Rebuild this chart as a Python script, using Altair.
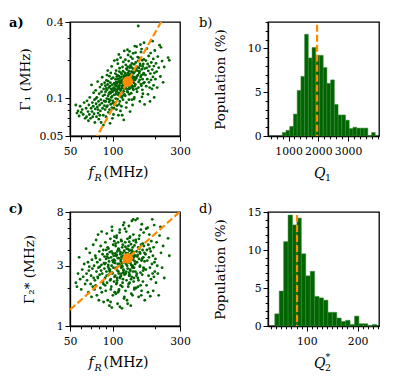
import altair as alt
import pandas as pd

FONT = "DejaVu Serif"
GREEN = "#006400"
ORANGE = "#ff8c00"

# ---------------- scatter data ----------------
fR = [55, 56, 57, 58, 59, 60, 61, 62, 63, 64,
      65, 65.5, 66, 67, 67.5, 68, 68.5, 69, 70, 70.5, 71, 71.5, 72, 72.5, 73, 73.5, 74, 74.5,
      75, 75.5, 76, 76.5, 77, 77.5, 78, 78.5, 79, 79.5, 80, 80.5, 81, 81.5, 82, 82.5, 83, 83.5, 84, 84.5,
      85, 85.5, 86, 86.5, 87, 87.5, 76.2, 78.8, 81.3, 83.8, 86.2, 87.8,
      88, 88.5, 89, 89.5, 90, 90.5, 91, 91.5, 92, 92.5, 93, 93.5, 94, 94.5, 95, 95.5, 96, 96.5, 97, 97.5,
      98, 98.5, 99, 99.5, 100, 100.5, 101, 101.5, 102, 102.5, 103, 103.5,
      89.2, 90.8, 92.3, 93.7, 95.2, 96.8, 98.3, 99.7, 101.2, 102.8, 88.7, 91.3, 94.2, 97.2, 100.2, 103.2,
      90.2, 93.2, 96.2, 99.2, 102.2, 95.7, 98.8,
      104, 104.5, 105, 105.5, 106, 106.5, 107, 107.5, 108, 108.5, 109, 109.5, 110, 110.5, 111, 111.5,
      112, 112.5, 113, 113.5, 114, 114.5, 115, 115.5, 116, 116.5, 117, 117.5, 118, 118.5, 119, 119.5,
      120, 120.5, 121, 121.5,
      104.2, 105.2, 106.2, 107.2, 108.2, 109.2, 110.2, 111.2, 112.2, 113.2, 114.2, 115.2, 116.2, 117.2,
      118.2, 119.2, 120.2, 121.2,
      104.7, 105.7, 106.7, 107.7, 108.7, 109.7, 110.7, 111.7, 112.7, 113.7, 114.7, 115.7, 116.7, 117.7,
      118.7, 119.7, 120.7, 121.7, 110.9, 116.9, 107.9,
      122, 122.5, 123, 123.5, 124, 124.5, 125, 125.5, 126, 126.5, 127, 127.5, 128, 128.5, 129, 129.5,
      130, 130.5, 131, 131.5, 132, 132.5, 133, 133.5, 134, 134.5, 135, 135.5, 136, 136.5, 137, 137.5,
      138, 138.5, 139, 139.5, 140, 140.5, 141, 141.5, 142, 142.5, 143, 143.5,
      122.3, 123.8, 125.3, 126.8, 128.3, 129.8, 131.3, 132.8, 134.3, 135.8, 137.3, 138.8, 140.3, 141.8, 143.3,
      123.2, 124.9, 126.2, 127.9, 129.3, 130.8, 132.2, 133.9, 135.2, 136.9, 138.2, 139.8, 141.2, 142.8,
      128.8, 131.9,
      144, 145, 146, 147, 148, 149, 150, 151, 152, 153, 154, 155, 156, 157, 158, 159, 160, 161, 162, 163,
      164, 165, 166, 167, 168, 169,
      144.5, 146.5, 148.5, 150.5, 152.5, 154.5, 156.5, 158.5, 160.5, 162.5, 164.5, 166.5, 168.5,
      145.5, 147.5, 149.5, 151.5, 153.5, 155.5, 157.5, 159.5, 161.5, 163.5, 165.5,
      171, 172, 173, 174, 175, 176, 177, 178, 179, 180, 181, 182, 184, 185, 186, 187, 188, 190, 191, 192,
      193, 194, 195, 196, 197, 198, 199, 183,
      201, 203, 205, 207, 209, 212, 215, 218, 220, 224, 228, 232, 247, 252]

gamma1 = [0.088, 0.076, 0.079, 0.072, 0.086, 0.077, 0.081, 0.074, 0.092, 0.069,
          0.083, 0.071, 0.095, 0.078, 0.066, 0.088, 0.074, 0.101, 0.069, 0.083, 0.127, 0.078, 0.092, 0.071,
          0.086, 0.11, 0.075, 0.097,
          0.064, 0.082, 0.115, 0.09, 0.071, 0.101, 0.085, 0.135, 0.076, 0.094, 0.068, 0.108, 0.088, 0.122,
          0.079, 0.097, 0.064, 0.112, 0.091, 0.146, 0.083, 0.104, 0.073, 0.118, 0.095, 0.087, 0.099, 0.081,
          0.073, 0.128, 0.061, 0.132,
          0.106, 0.081, 0.125, 0.094, 0.071, 0.138, 0.099, 0.116, 0.087, 0.165, 0.104, 0.077, 0.121, 0.093,
          0.149, 0.111, 0.063, 0.132, 0.089, 0.118, 0.101, 0.178, 0.084, 0.127, 0.112, 0.095, 0.145, 0.074,
          0.121, 0.106, 0.198, 0.088,
          0.112, 0.085, 0.128, 0.098, 0.081, 0.109, 0.142, 0.069, 0.118, 0.131, 0.094, 0.152, 0.108, 0.158,
          0.091, 0.115, 0.119, 0.136, 0.096, 0.103, 0.083, 0.124, 0.113,
          0.118, 0.092, 0.141, 0.107, 0.165, 0.081, 0.129, 0.113, 0.152, 0.098, 0.187, 0.121, 0.073, 0.135,
          0.109, 0.162, 0.126, 0.094, 0.144, 0.117, 0.209, 0.103, 0.132, 0.086, 0.155, 0.124, 0.111, 0.176,
          0.138, 0.097, 0.128, 0.148, 0.067, 0.119, 0.236, 0.134,
          0.128, 0.099, 0.134, 0.148, 0.117, 0.141, 0.124, 0.089, 0.172, 0.131, 0.114, 0.147, 0.101, 0.139,
          0.121, 0.193, 0.143, 0.107,
          0.156, 0.124, 0.111, 0.087, 0.133, 0.106, 0.149, 0.119, 0.137, 0.079, 0.158, 0.119, 0.135, 0.104,
          0.163, 0.113, 0.129, 0.152, 0.221, 0.073, 0.201,
          0.127, 0.158, 0.104, 0.141, 0.183, 0.119, 0.147, 0.092, 0.133, 0.168, 0.126, 0.241, 0.139, 0.111,
          0.152, 0.131, 0.196, 0.097, 0.145, 0.122, 0.174, 0.136, 0.078, 0.155, 0.128, 0.212, 0.143, 0.109,
          0.162, 0.134, 0.188, 0.121, 0.149, 0.088, 0.171, 0.138, 0.226, 0.116, 0.157, 0.132, 0.185, 0.101,
          0.146, 0.258,
          0.148, 0.129, 0.171, 0.113, 0.157, 0.142, 0.107, 0.151, 0.139, 0.176, 0.125, 0.161, 0.144, 0.098, 0.169,
          0.201, 0.084, 0.152, 0.177, 0.118, 0.163, 0.119, 0.181, 0.126, 0.097, 0.205, 0.118, 0.142, 0.124,
          0.219, 0.234,
          0.162, 0.128, 0.191, 0.143, 0.255, 0.112, 0.176, 0.152, 0.372, 0.134, 0.208, 0.163, 0.094, 0.181,
          0.147, 0.231, 0.125, 0.169, 0.199, 0.141, 0.108, 0.186, 0.157, 0.274, 0.133, 0.171,
          0.139, 0.171, 0.148, 0.211, 0.121, 0.158, 0.186, 0.129, 0.244, 0.116, 0.154, 0.202, 0.089,
          0.229, 0.118, 0.165, 0.197, 0.173, 0.139, 0.265, 0.151, 0.102, 0.178, 0.131,
          0.152, 0.198, 0.124, 0.173, 0.246, 0.141, 0.186, 0.107, 0.164, 0.215, 0.133, 0.178, 0.094, 0.156,
          0.227, 0.139, 0.191, 0.118, 0.168, 0.282, 0.147, 0.204, 0.126, 0.179, 0.101, 0.158, 0.238, 0.121,
          0.141, 0.188, 0.162, 0.121, 0.213, 0.174, 0.262, 0.148, 0.252, 0.196, 0.133, 0.176, 0.209, 0.199]

gamma2 = [2.2, 2.05, 2.6, 3.5, 2.35, 1.95, 2.8, 2.45, 3.1, 2.15,
          4.1, 2.6, 2.3, 3.2, 1.85, 2.75, 2.95, 3.8, 2.15, 2.5, 1.7, 3.35, 2.85, 2.05, 4.4, 2.4, 3.0, 1.95,
          2.3, 3.6, 2.1, 4.8, 2.7, 1.75, 3.2, 2.45, 5.3, 2.9, 1.6, 3.9, 2.55, 3.35, 2.0, 4.3, 2.75, 3.05,
          1.85, 2.6, 3.7, 2.25, 4.0, 1.55, 3.15, 2.85, 3.45, 2.4, 2.95, 5.6, 2.15, 3.55,
          3.1, 2.4, 4.6, 1.9, 3.4, 2.7, 5.4, 2.2, 3.7, 1.6, 2.95, 4.1, 2.55, 3.25, 1.45, 3.85, 2.8, 4.9,
          2.35, 3.5, 2.05, 3.0, 6.1, 2.65, 3.3, 1.75, 4.4, 2.9, 3.6, 2.25, 5.1, 1.85, 3.15, 2.5, 4.2, 3.45,
          2.75, 1.55, 3.9, 2.6, 3.2, 4.7, 2.1, 3.55, 2.85, 1.95, 3.75, 2.45, 4.0, 3.05, 2.3, 5.7, 3.35, 2.7, 1.4,
          3.3, 2.5, 4.3, 1.8, 3.6, 2.9, 5.2, 2.2, 3.9, 1.5, 3.1, 4.6, 2.7, 3.45, 1.95, 4.0, 3.0, 5.8, 2.4, 3.7,
          2.1, 3.25, 4.8, 2.6, 3.5, 1.38, 4.2, 2.95, 3.8, 2.35, 6.3, 2.8,
          3.4, 1.65, 3.95, 2.55, 3.15, 4.5, 2.15, 3.65, 2.75, 1.85, 4.1, 3.05, 5.5, 2.45, 3.35, 2.9,
          3.55, 2.05, 4.4, 2.65, 3.2, 1.7, 3.75, 2.85, 5.0, 2.3, 3.45, 4.05, 2.6, 3.1, 1.42, 3.85, 2.5, 4.7,
          3.0, 2.2, 3.6, 2.75, 6.6, 3.3, 1.9, 3.15, 2.4,
          3.5, 2.6, 4.6, 1.9, 3.8, 3.1, 5.6, 2.3, 4.1, 1.6, 3.3, 4.9, 2.85, 3.65, 2.05, 4.3, 3.2, 6.2, 2.5, 3.95,
          2.2, 3.45, 5.1, 2.75, 3.7, 1.45, 4.45, 3.05, 4.0, 2.45, 6.8, 2.95,
          3.6, 1.75, 4.2, 2.7, 3.35, 4.75, 2.25, 3.85, 2.9, 1.95, 4.35, 3.25, 5.9, 2.6, 3.55, 3.0,
          3.75, 2.15, 4.65, 2.8, 3.4, 1.8, 3.95, 3.0, 5.3, 2.4, 3.6, 4.25, 2.7, 3.3, 1.5, 4.05, 2.65, 5.0,
          3.15, 2.35, 3.8, 2.9, 7.0, 3.5, 2.0, 3.2, 2.55,
          3.6, 2.7, 4.8, 2.0, 3.9, 3.2, 7.1, 2.4, 4.2, 1.7, 3.4, 5.2, 2.95, 3.75, 2.1, 4.4, 3.3, 6.4, 2.55, 4.0,
          2.25, 3.5, 5.5, 2.85, 3.8, 1.6,
          3.1, 4.6, 2.6, 3.65, 2.3, 4.1, 3.0, 5.8, 1.9, 3.45, 2.75, 4.3, 3.25, 6.9, 2.5, 3.55, 2.05, 4.9,
          3.85, 2.65, 1.75, 3.35, 4.5, 2.9,
          3.7, 2.8, 5.9, 2.1, 4.0, 3.3, 6.0, 1.85, 4.4, 2.5, 3.5, 5.3, 2.9, 1.72, 3.9, 2.35, 4.7, 3.1, 7.0, 2.6,
          3.6, 1.9, 4.2, 2.45, 6.3, 3.2, 2.7, 4.1,
          3.4, 2.2, 4.6, 3.0, 2.6, 1.75, 5.2, 6.1, 3.8, 2.9, 4.3, 2.4, 4.95, 3.6]

fit_f = [50, 300]
fit_gamma1 = [0.0206, 0.742]
fit_gamma2 = [1.344, 8.06]
mean_f = [128]
mean_gamma1 = [0.135]
mean_gamma2 = [3.44]

# ---------------- histogram data ----------------
q1_edges = [790, 915, 1040, 1165, 1290, 1415, 1540, 1665, 1790, 1915, 2040, 2165, 2290, 2415, 2540,
            2665, 2790, 2915, 3040, 3165, 3290, 3415, 3540, 3665, 3790, 3915]
q1_pct = [0.4, 0.65, 1.1, 2.5, 5.2, 6.8, 11.6, 8.9, 10.1, 9.2, 9.2, 7.8, 6.0, 6.4, 3.6, 2.4, 2.4, 1.8,
          0.85, 1.0, 0.9, 0.9, 0.9, 0.0, 0.4]
q1_median = [1960]
q1_line_top = [12.7]

q2_edges = [37.3, 46.0, 54.7, 63.4, 72.1, 80.8, 89.5, 98.2, 106.9, 115.6, 124.3, 133.0, 141.7, 150.4,
            159.1, 167.8, 176.5, 185.2, 193.9, 202.6, 211.3, 220.0, 228.7, 237.4]
q2_pct = [1.6, 4.6, 11.1, 14.6, 13.3, 14.2, 9.5, 6.6, 7.2, 3.9, 3.7, 3.4, 1.8, 1.8, 1.05, 0.6, 0.75,
          0.2, 1.3, 0.3, 0.3, 0.0, 0.2]
q2_median = [81]
q2_line_top = [14.6]

# ---------------- ticks ----------------
f_ticks = [50, 60, 70, 80, 90, 100, 200, 300]
f_labels = [50, 100, 300]
g1_ticks = [0.05, 0.06, 0.07, 0.08, 0.09, 0.1, 0.2, 0.3, 0.4]
g1_labels = [0.05, 0.1, 0.4]
g2_ticks = [1, 2, 3, 4, 5, 6, 7, 8]
g2_labels = [1, 3, 8]
q1_ticks = [400, 600, 800, 1000, 1200, 1400, 1600, 1800, 2000, 2200, 2400, 2600, 2800, 3000, 3200,
            3400, 3600, 3800, 4000]
q1_labels = [1000, 2000, 3000]
q2_ticks = [30, 40, 50, 60, 70, 80, 90, 100, 110, 120, 130, 140, 150, 160, 170, 180, 190, 200,
            210, 220, 230, 240]
q2_labels = [100, 200]
p1_ticks = [0, 1, 2, 3, 4, 5, 6, 7, 8, 9, 10, 11, 12, 13]
p1_labels = [0, 5, 10]
p2_ticks = [0, 1, 2, 3, 4, 5, 6, 7, 8, 9, 10, 11, 12, 13, 14, 15]
p2_labels = [0, 5, 10, 15]

W, H = 110, 114
LABEL_SIZE = 10.8
TITLE_SIZE = 13.5


def make_axis(ticks, labels, fmt, title=None, title_x=None, pad=3):
    test = " || ".join(f"datum.value == {v}" for v in labels)
    kw = dict(values=ticks, format=fmt, labelExpr=f"({test}) ? datum.label : ''",
              tickSize={"condition": {"test": test, "value": 5}, "value": 2.8},
              tickColor="black", tickWidth=1, domainColor="black", domainWidth=1.3,
              labelFont=FONT, labelFontSize=LABEL_SIZE, labelColor="black", labelPadding=pad,
              labelFlush=False, labelOverlap=False, grid=False)
    if title is None:
        kw["title"] = None
    else:
        kw.update(title=title, titleFont=FONT, titleFontSize=TITLE_SIZE, titleFontWeight="normal",
                  titleColor="black", titleX=title_x, titleY=H / 2, titleAngle=270,
                  titleBaseline="middle", titleAlign="center")
    return alt.Axis(**kw)


def piece(s, x, y, size=TITLE_SIZE, style="normal"):
    return alt.Chart(alt.InlineData(values=[{"k": 0}])).mark_text(
        text=s, font=FONT, fontSize=size, fontStyle=style, align="left",
        baseline="alphabetic", color="black").encode(x=alt.value(x), y=alt.value(y))


def panel_title(label, bold, dx, dy):
    return alt.TitleParams(text=label, anchor="start", frame="group", dx=dx, dy=dy, offset=0,
                           font=FONT, fontSize=13, fontWeight="bold" if bold else "normal",
                           color="black", baseline="alphabetic", align="left")


def scatter_panel(gvals, fit_g, mean_g, ydom, yticks, ylabels, ytitle, title_x, label, bold, dx, dy, key):
    fx, gy = "f_" + key, "g_" + key
    rows = [{fx: f, gy: g, "kind": "pt"} for f, g in zip(fR, gvals)]
    rows += [{fx: f, gy: g, "kind": "fit"} for f, g in zip(fit_f, fit_g)]
    rows += [{fx: f, gy: g, "kind": "mean"} for f, g in zip(mean_f, mean_g)]
    df = pd.DataFrame(rows)
    x = alt.X(f"{fx}:Q", scale=alt.Scale(type="log", domain=[50, 300], nice=False),
              axis=make_axis(f_ticks, f_labels, "~g", pad=4))
    y = alt.Y(f"{gy}:Q", scale=alt.Scale(type="log", domain=ydom, nice=False),
              axis=make_axis(yticks, ylabels, "~g", title=ytitle, title_x=title_x, pad=2))
    base = alt.Chart(df).encode(x=x, y=y)
    pts = base.transform_filter(alt.datum.kind == "pt").mark_circle(size=8, color=GREEN, opacity=1)
    fit = base.transform_filter(alt.datum.kind == "fit").mark_line(
        color=ORANGE, strokeWidth=2.2, strokeDash=[7, 3], clip=True)
    dot = base.transform_filter(alt.datum.kind == "mean").mark_circle(size=110, color=ORANGE, opacity=1)
    xt = [piece("f", 18.5, 155, 14, "italic"), piece("R", 24.5, 158.5, 9.5, "italic"),
          piece("(MHz)", 33.5, 155, 14)]
    return alt.layer(pts, fit, dot, *xt).properties(width=W, height=H,
                                                     title=panel_title(label, bold, dx, dy))


def hist_panel(edges, pct, med, top, xdom, xticks, xlabels, ydom, yticks, ylabels, label, bold, dx, dy,
               key, xt):
    x0, x1, p = "x0_" + key, "x1_" + key, "p_" + key
    df = pd.DataFrame({x0: edges[:-1], x1: edges[1:], p: pct})
    ldf = pd.DataFrame({x0: med, p: top})
    x = alt.X(f"{x0}:Q", scale=alt.Scale(domain=xdom, nice=False, zero=False),
              axis=make_axis(xticks, xlabels, "d", pad=4))
    y = alt.Y(f"{p}:Q", scale=alt.Scale(domain=ydom, nice=False),
              axis=make_axis(yticks, ylabels, "d", title="Population (%)", title_x=-48, pad=2))
    bars = alt.Chart(df).mark_rect(color=GREEN, stroke="#3a8a3a", strokeWidth=0.5).encode(
        x=x, x2=alt.X2(x1), y=y, y2=alt.datum(0))
    rule = alt.Chart(ldf).mark_rule(color=ORANGE, strokeWidth=2.2, strokeDash=[7, 3]).encode(
        x=x, y=y, y2=alt.datum(0))
    return alt.layer(bars, rule, *xt).properties(width=W + 1, height=H,
                                                 title=panel_title(label, bold, dx, dy))


pa = scatter_panel(gamma1, fit_gamma1, mean_gamma1, [0.05, 0.4], g1_ticks, g1_labels, "Γ₁ (MHz)",
                   -45, "a)", True, -61, 24, "a")
pc = scatter_panel(gamma2, fit_gamma2, mean_gamma2, [1, 8], g2_ticks, g2_labels, "Γ₂* (MHz)",
                   -41, "c)", True, -61, 20, "c")
pb = hist_panel(q1_edges, q1_pct, q1_median, q1_line_top, [310, 4040], q1_ticks, q1_labels,
                [0, 13], p1_ticks, p1_labels, "b)", False, -69, 24, "b",
                [piece("Q", 46, 155.5, 14, "italic"), piece("1", 57, 159, 9.5)])
pd_ = hist_panel(q2_edges, q2_pct, q2_median, q2_line_top, [24, 242], q2_ticks, q2_labels,
                 [0, 15], p2_ticks, p2_labels, "d)", False, -69, 20, "d",
                 [piece("Q", 46, 155.5, 14, "italic"), piece("*", 57.5, 148, 9.5),
                  piece("2", 57, 159, 9.5)])

chart = alt.concat(pa, pb, pc, pd_, columns=2, spacing={"row": 76, "column": 88},
                   bounds="flush").resolve_scale(x="independent", y="independent").properties(
    padding={"left": 0, "top": 7, "right": 0, "bottom": 0}
).configure_view(stroke="black", strokeWidth=1.3)

chart.save("out.html", embed_options={"renderer": "svg", "actions": False})
